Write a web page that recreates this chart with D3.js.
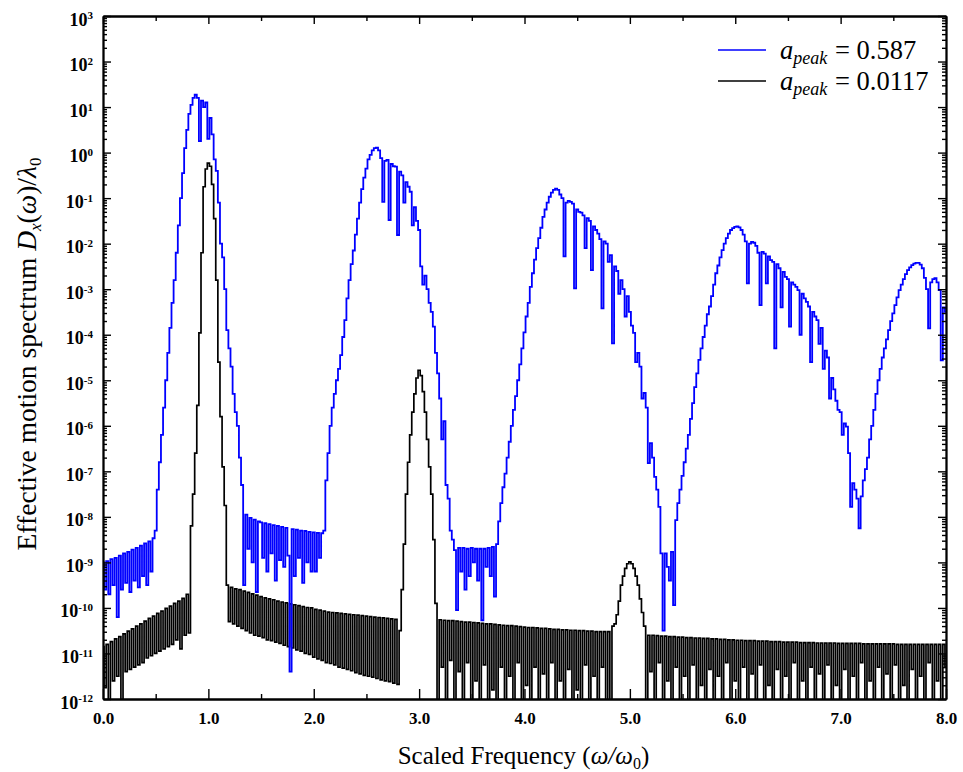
<!DOCTYPE html>
<html>
<head>
<meta charset="utf-8">
<script src="https://cdn.jsdelivr.net/npm/d3@7"></script>
<style>
  body { margin: 0; background: #fff; }
  svg { display: block; }
</style>
</head>
<body>
<svg id="chart" width="963" height="772"></svg>
<script>
// Frequency grid (omega/omega_0) shared by both spectra
const freqStart = 0;
const freqStep = 0.02;

// log10 of D_x(omega)/lambda_0, a_peak = 0.587 (one row per 0.5 in frequency)
const spectrumStrongLog = [
  -9.0,-9.6,-8.97,-9.7,-8.93,-9.5,-8.9,-10.2,-8.85,-9.6,-8.8,-9.45,-8.77,-9.65,-8.72,-9.4,-8.68,-9.55,-8.63,-9.3,-8.58,-9.5,-8.54,-9.2,-8.47,
  -8.3,-7.4,-6.8,-6.2,-5.6,-5.0,-4.4,-3.85,-3.3,-2.8,-2.2,-1.6,-1.0,-0.45,0.1,0.5,0.85,1.05,1.2,1.27,1.2,0.25,1.14,1.0,1.1,
  0.3,0.76,0.4,-0.15,-0.4,-1.1,-2.0,-2.3,-3.0,-3.9,-4.3,-4.7,-5.3,-5.7,-6.0,-6.7,-7.3,-9.5,-7.95,-8.7,-8.02,-9.0,-8.06,-9.65,-8.1,
  -8.12,-8.9,-8.14,-9.2,-8.16,-8.8,-8.18,-9.4,-8.2,-8.95,-8.22,-9.1,-8.24,-8.85,-11.4,-8.27,-9.3,-8.28,-8.9,-8.3,-9.45,-8.31,-9.0,-8.33,-9.2,
  -8.34,-9.2,-8.35,-8.9,-8.36,-8.3,-7.2,-6.6,-6.0,-5.6,-5.3,-5.0,-4.75,-4.45,-4.05,-3.68,-3.2,-2.8,-2.45,-2.15,-1.8,-1.45,-1.1,-0.8,-0.55,
  -0.35,-0.15,-0.05,0.05,0.1,0.11,0.05,-0.12,-1.08,-0.18,-0.16,-1.48,-0.25,-0.3,-0.31,-1.81,-0.42,-0.5,-1.1,-0.65,-0.75,-0.86,-1.6,-1.2,-1.5,
  -1.7,-2.5,-2.9,-2.7,-3.0,-3.3,-3.5,-3.82,-4.4,-4.85,-5.4,-6.3,-5.9,-7.3,-7.6,-8.3,-8.5,-8.73,-10.05,-8.68,-9.2,-8.68,-9.6,-8.7,-9.3,
  -8.68,-9.0,-8.7,-9.4,-8.7,-10.27,-8.7,-9.1,-8.68,-9.3,-8.66,-9.75,-8.6,-8.1,-7.7,-7.35,-7.05,-6.7,-6.35,-6.0,-5.65,-5.35,-5.0,-4.65,-4.3,
  -3.95,-3.6,-3.3,-2.95,-2.65,-2.35,-2.1,-1.88,-1.65,-1.41,-1.25,-1.1,-0.97,-0.88,-0.82,-0.79,-0.82,-0.92,-1.0,-2.28,-1.1,-1.06,-1.08,-1.12,-2.98,
  -1.25,-1.3,-1.32,-1.38,-2.1,-1.44,-1.5,-2.58,-1.62,-1.7,-1.78,-1.9,-3.42,-1.95,-2.0,-2.4,-2.25,-4.19,-2.5,-2.6,-3.1,-2.8,-3.0,-3.6,-3.15,
  -3.5,-3.8,-3.96,-4.6,-4.4,-4.7,-5.4,-5.28,-5.6,-6.82,-6.38,-6.7,-7.12,-7.4,-7.78,-8.8,-10.5,-8.8,-9.1,-9.4,-8.77,-9.94,-8.07,-7.7,-7.4,
  -7.1,-6.8,-6.5,-6.2,-5.85,-5.5,-5.15,-4.85,-4.55,-4.3,-4.05,-3.8,-3.55,-3.38,-3.15,-2.9,-2.65,-2.48,-2.3,-2.14,-2.0,-1.88,-1.78,-1.7,-1.66,
  -1.63,-1.62,-1.64,-1.7,-1.8,-1.95,-2.87,-2.0,-1.96,-1.98,-2.05,-2.2,-3.35,-2.18,-2.22,-2.87,-2.28,-2.36,-2.4,-4.3,-2.45,-2.54,-3.4,-2.62,-2.73,
  -2.78,-3.82,-2.85,-2.9,-2.95,-3.02,-4.0,-3.1,-3.2,-3.28,-3.38,-4.6,-3.5,-3.6,-3.68,-4.2,-3.85,-4.75,-4.35,-4.5,-5.4,-4.95,-5.2,-5.45,-5.65,
  -5.7,-6.2,-5.95,-6.02,-6.6,-7.78,-7.26,-7.4,-7.6,-8.25,-7.55,-7.2,-6.95,-6.7,-6.3,-6.0,-5.65,-5.3,-5.0,-4.75,-4.5,-4.3,-4.1,-3.9,-3.7,
  -3.53,-3.35,-3.18,-3.02,-2.9,-2.78,-2.67,-2.58,-2.52,-2.47,-2.44,-2.42,-2.42,-2.46,-2.54,-2.75,-3.0,-3.86,-2.85,-2.78,-2.76,-2.85,-3.02,-4.56,-3.4,-3.5
];

// log10 of D_x(omega)/lambda_0, a_peak = 0.0117
const spectrumWeakLog = [
  -10.85,-11.75,-10.8,-12.4,-10.74,-11.6,-10.68,-11.5,-10.63,-12.5,-10.57,-11.4,-10.51,-11.35,-10.46,-11.3,-10.4,-11.25,-10.35,-11.2,-10.29,-11.1,-10.23,-11.05,-10.18,
  -11.0,-10.12,-10.95,-10.07,-10.9,-10.01,-10.85,-9.96,-10.8,-9.9,-10.7,-9.85,-10.9,-9.79,-10.6,-9.7,-10.55,-8.2,-7.5,-6.6,-5.55,-3.96,-2.2,-0.75,-0.36,
  -0.23,-0.3,-0.7,-1.45,-2.8,-4.6,-5.8,-6.9,-7.75,-9.5,-10.3,-9.55,-10.35,-9.58,-10.4,-9.6,-10.45,-9.63,-10.5,-9.66,-10.55,-9.69,-10.6,-9.72,-10.62,
  -9.75,-10.65,-9.78,-10.7,-9.8,-10.72,-9.82,-10.75,-9.85,-10.78,-9.87,-10.82,-9.89,-10.85,-9.91,-10.88,-9.93,-10.92,-9.95,-10.95,-9.97,-11.0,-9.99,-11.02,-10.0,
  -11.08,-10.03,-11.12,-10.05,-11.15,-10.07,-11.2,-10.09,-11.22,-10.1,-11.25,-10.11,-11.3,-10.12,-11.32,-10.13,-11.35,-10.14,-11.38,-10.15,-11.42,-10.16,-11.45,-10.17,-11.48,
  -10.18,-11.5,-10.19,-11.52,-10.2,-11.55,-10.21,-11.58,-10.22,-11.6,-10.23,-11.62,-10.24,-11.65,-10.25,-11.68,-10.5,-9.6,-8.6,-7.5,-6.8,-6.2,-5.7,-5.3,-4.95,
  -4.78,-4.9,-5.25,-5.7,-6.3,-6.9,-7.5,-8.5,-9.9,-12.5,-10.26,-11.3,-10.27,-12.5,-10.28,-11.15,-10.28,-12.5,-10.29,-11.4,-10.3,-12.5,-10.31,-11.2,-10.31,
  -12.5,-10.32,-11.6,-10.33,-12.5,-10.34,-11.25,-10.35,-12.5,-10.35,-11.8,-10.36,-12.5,-10.37,-11.3,-10.38,-12.5,-10.39,-11.5,-10.39,-12.5,-10.4,-11.2,-10.41,-12.5,
  -10.42,-11.7,-10.43,-12.5,-10.43,-11.3,-10.44,-12.5,-10.45,-11.45,-10.45,-12.5,-10.46,-11.2,-10.47,-12.5,-10.47,-11.6,-10.48,-12.5,-10.48,-11.35,-10.49,-12.5,-10.49,
  -11.8,-10.5,-12.5,-10.5,-11.25,-10.51,-12.5,-10.51,-11.5,-10.52,-12.5,-10.52,-11.3,-10.52,-12.5,-10.52,-12.5,-10.4,-10.35,-10.15,-9.85,-9.5,-9.3,-9.13,-9.03,
  -8.99,-9.03,-9.13,-9.3,-9.5,-9.8,-10.1,-10.4,-12.5,-10.6,-11.4,-10.6,-12.5,-10.61,-11.2,-10.62,-12.5,-10.62,-11.6,-10.63,-12.5,-10.63,-11.3,-10.64,-12.5,
  -10.64,-11.5,-10.65,-12.5,-10.65,-11.25,-10.66,-12.5,-10.66,-11.7,-10.67,-12.5,-10.67,-11.35,-10.68,-12.5,-10.68,-11.5,-10.69,-12.5,-10.69,-11.2,-10.7,-12.5,-10.7,
  -11.6,-10.71,-12.5,-10.71,-11.3,-10.72,-12.5,-10.72,-11.45,-10.72,-12.5,-10.73,-11.25,-10.73,-12.5,-10.73,-11.7,-10.74,-12.5,-10.74,-11.35,-10.74,-12.5,-10.75,-11.5,
  -10.75,-12.5,-10.75,-11.2,-10.75,-12.5,-10.76,-11.6,-10.76,-12.5,-10.76,-11.3,-10.76,-12.5,-10.77,-11.45,-10.77,-12.5,-10.77,-11.25,-10.77,-12.5,-10.77,-11.7,-10.78,
  -12.5,-10.78,-11.35,-10.78,-12.5,-10.78,-11.5,-10.78,-12.5,-10.78,-11.2,-10.79,-12.5,-10.79,-11.6,-10.79,-12.5,-10.79,-11.3,-10.79,-12.5,-10.79,-11.45,-10.79,-12.5,
  -10.79,-11.25,-10.8,-12.5,-10.8,-11.7,-10.8,-12.5,-10.8,-11.35,-10.8,-12.5,-10.8,-11.5,-10.8,-12.5,-10.8,-11.2,-10.8,-12.5,-10.8,-11.6,-10.8,-12.5,-10.8,-11.3
];

const xMajorTicks = [0, 1, 2, 3, 4, 5, 6, 7, 8];
const xTickLabels = ["0.0", "1.0", "2.0", "3.0", "4.0", "5.0", "6.0", "7.0", "8.0"];
const xMinorTicks = [0.5, 1.5, 2.5, 3.5, 4.5, 5.5, 6.5, 7.5];
const yDecadeExponents = [-12, -11, -10, -9, -8, -7, -6, -5, -4, -3, -2, -1, 0, 1, 2, 3];

const seriesNames = ["0.587", "0.0117"];
const seriesColors = ["#0000ff", "#000000"];

// ---------------------------------------------------------------------------
const margin = { left: 103, right: 17, top: 16, bottom: 73 };
const W = 963, H = 772;
const plotW = W - margin.left - margin.right;
const plotH = H - margin.top - margin.bottom;

const svg = d3.select("#chart");
const x = d3.scaleLinear().domain([0, 8]).range([0, plotW]);
const y = d3.scaleLog().domain([1e-12, 1e3]).range([plotH, 0]);

const root = svg.append("g").attr("transform", `translate(${margin.left},${margin.top})`);

svg.append("defs").append("clipPath").attr("id", "plotClip")
  .append("rect").attr("x", 0).attr("y", 0).attr("width", plotW).attr("height", plotH);

function toPoints(logs) {
  return logs.map((v, i) => ({ f: freqStart + i * freqStep, d: Math.pow(10, v) }));
}

const line = d3.line()
  .x(p => x(p.f))
  .y(p => y(p.d))
  .curve(d3.curveStep);

const plot = root.append("g").attr("clip-path", "url(#plotClip)");
// weak-drive spectrum underneath, strong-drive spectrum on top
plot.append("path")
  .datum(toPoints(spectrumWeakLog))
  .attr("d", line)
  .attr("fill", "none")
  .attr("stroke", seriesColors[1])
  .attr("stroke-width", 1.7);
plot.append("path")
  .datum(toPoints(spectrumStrongLog))
  .attr("d", line)
  .attr("fill", "none")
  .attr("stroke", seriesColors[0])
  .attr("stroke-width", 1.8);

// ---------------------------------------------------------------------------
// Axes: inward ticks on all four sides, frame from the axis domains
const tickFont = "'Liberation Serif', 'Times New Roman', serif";

function styleAxis(g) {
  g.select(".domain").attr("stroke", "#000").attr("stroke-width", 1.8);
  g.selectAll(".tick line").attr("stroke", "#000").attr("stroke-width", 1.4);
}

// bottom
root.append("g").attr("transform", `translate(0,${plotH})`)
  .call(d3.axisBottom(x).tickValues(xMajorTicks).tickSize(-10).tickSizeOuter(0).tickPadding(13)
    .tickFormat((d, i) => xTickLabels[i]))
  .call(styleAxis)
  .call(g => g.selectAll(".tick text").attr("font-family", tickFont).attr("font-size", 17)
    .attr("font-weight", "bold").attr("fill", "#000"));
root.append("g").attr("transform", `translate(0,${plotH})`)
  .call(d3.axisBottom(x).tickValues(xMinorTicks).tickSize(-5).tickSizeOuter(0).tickFormat(""))
  .call(styleAxis);
// top
root.append("g")
  .call(d3.axisTop(x).tickValues(xMajorTicks).tickSize(-8).tickSizeOuter(0).tickFormat(""))
  .call(styleAxis);
root.append("g")
  .call(d3.axisTop(x).tickValues(xMinorTicks).tickSize(-5).tickSizeOuter(0).tickFormat(""))
  .call(styleAxis);

const decadeValues = yDecadeExponents.map(e => Math.pow(10, e));
const minorValues = [];
yDecadeExponents.slice(0, -1).forEach(e => {
  for (let m = 2; m <= 9; m++) minorValues.push(m * Math.pow(10, e));
});

// left
root.append("g")
  .call(d3.axisLeft(y).tickValues(decadeValues).tickSize(-8).tickSizeOuter(0).tickPadding(10)
    .tickFormat(""))
  .call(styleAxis)
  .call(g => g.selectAll(".tick text").each(function (d) {
    const t = d3.select(this)
      .attr("font-family", tickFont).attr("font-size", 18).attr("font-weight", "bold")
      .attr("fill", "#000").attr("dy", "0.5em");
    t.append("tspan").text("10");
    t.append("tspan").attr("dy", "-0.55em").attr("font-size", 11)
      .text(String(Math.round(Math.log10(d))));
  }));
root.append("g")
  .call(d3.axisLeft(y).tickValues(minorValues).tickSize(-4).tickSizeOuter(0).tickFormat(""))
  .call(styleAxis);
// right
root.append("g").attr("transform", `translate(${plotW},0)`)
  .call(d3.axisRight(y).tickValues(decadeValues).tickSize(-8).tickSizeOuter(0).tickFormat(""))
  .call(styleAxis);
root.append("g").attr("transform", `translate(${plotW},0)`)
  .call(d3.axisRight(y).tickValues(minorValues).tickSize(-4).tickSizeOuter(0).tickFormat(""))
  .call(styleAxis);

// ---------------------------------------------------------------------------
// Axis titles
const titleFont = "'Liberation Serif', 'Times New Roman', serif";

const xTitle = svg.append("text")
  .attr("x", margin.left + x(3.99)).attr("y", 764)
  .attr("text-anchor", "middle")
  .attr("font-family", titleFont).attr("font-size", 25).attr("fill", "#000");
xTitle.append("tspan").text("Scaled Frequency (");
xTitle.append("tspan").attr("font-style", "italic").text("ω/ω");
xTitle.append("tspan").attr("font-size", 16).attr("dy", 5).text("0");
xTitle.append("tspan").attr("dy", -5).text(")");

const yTitle = svg.append("text")
  .attr("transform", `translate(36,354) rotate(-90)`)
  .attr("text-anchor", "middle")
  .attr("font-family", titleFont).attr("font-size", 27.5).attr("fill", "#000");
yTitle.append("tspan").text("Effective motion spectrum ");
yTitle.append("tspan").attr("font-style", "italic").text("D");
yTitle.append("tspan").attr("font-style", "italic").attr("font-size", 17).attr("dy", 5).text("x");
yTitle.append("tspan").attr("dy", -5).text("(");
yTitle.append("tspan").attr("font-style", "italic").text("ω");
yTitle.append("tspan").text(")/");
yTitle.append("tspan").attr("font-style", "italic").text("λ");
yTitle.append("tspan").attr("font-size", 17).attr("dy", 5).text("0");

// ---------------------------------------------------------------------------
// Legend
const legend = svg.append("g").attr("transform", "translate(718,50)");
seriesNames.forEach((name, i) => {
  const row = legend.append("g").attr("transform", `translate(0,${i * 31})`);
  row.append("line").attr("x1", 0).attr("x2", 48).attr("y1", 0).attr("y2", 0)
    .attr("stroke", seriesColors[i]).attr("stroke-width", 1.5);
  const t = row.append("text").attr("x", 62).attr("y", 9)
    .attr("font-family", titleFont).attr("font-size", 26.5).attr("fill", "#000");
  t.append("tspan").attr("font-style", "italic").text("a");
  t.append("tspan").attr("font-style", "italic").attr("font-size", 18).attr("dy", 5).text("peak");
  t.append("tspan").attr("x", 117).attr("dy", -5).text("= " + name);
});
</script>
</body>
</html>
